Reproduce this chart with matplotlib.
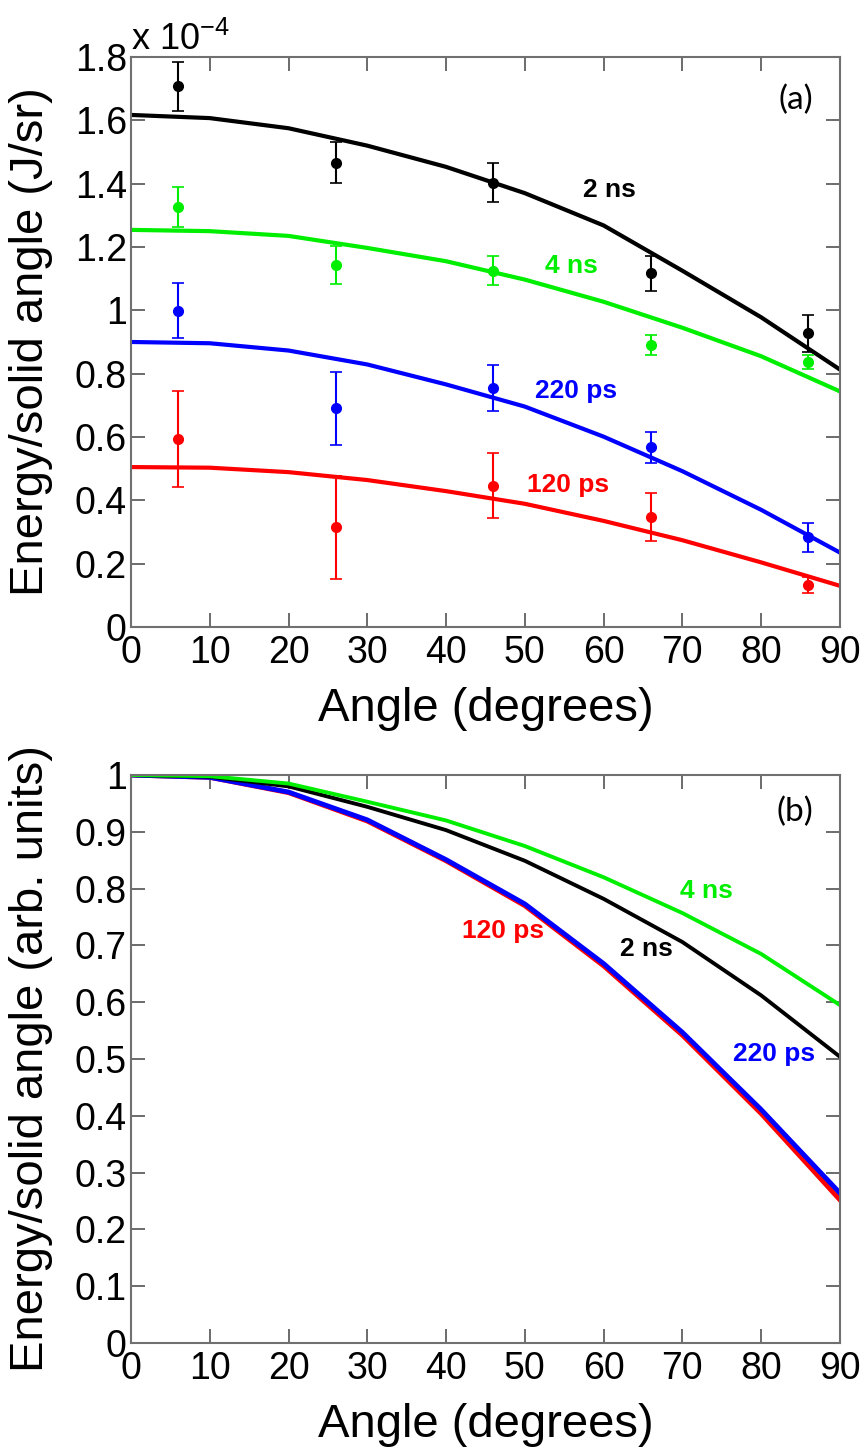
import matplotlib
matplotlib.use("Agg")
import matplotlib.pyplot as plt
from matplotlib.ticker import FuncFormatter

plt.rcParams['font.family'] = ['Liberation Sans', 'DejaVu Sans']
plt.rcParams['mathtext.fontset'] = 'custom'
plt.rcParams['mathtext.rm'] = 'Liberation Sans'

# measured points, panel (a)
angles_pts = [6, 26, 46, 66, 86]
e_2ns = [1.708, 1.466, 1.403, 1.117, 0.927]
err_2ns = [0.077, 0.065, 0.062, 0.055, 0.058]
e_4ns = [1.327, 1.143, 1.125, 0.890, 0.838]
err_4ns = [0.063, 0.061, 0.045, 0.031, 0.022]
e_220ps = [0.999, 0.690, 0.754, 0.567, 0.283]
err_220ps = [0.088, 0.115, 0.073, 0.050, 0.046]
e_120ps = [0.594, 0.315, 0.446, 0.348, 0.133]
err_120ps = [0.152, 0.162, 0.102, 0.075, 0.025]

# fitted curves, panel (a) (units of 1e-4 J/sr)
angles_fit = [0, 10, 20, 30, 40, 50, 60, 70, 80, 90]
fit_2ns = [1.617, 1.607, 1.575, 1.520, 1.453, 1.370, 1.268, 1.125, 0.978, 0.813]
fit_4ns = [1.254, 1.250, 1.235, 1.197, 1.155, 1.097, 1.027, 0.945, 0.855, 0.744]
fit_220ps = [0.900, 0.896, 0.873, 0.829, 0.766, 0.696, 0.601, 0.492, 0.370, 0.235]
fit_120ps = [0.505, 0.503, 0.489, 0.464, 0.429, 0.389, 0.335, 0.274, 0.204, 0.130]

# normalised curves, panel (b)
norm_2ns = [1.0, 0.997, 0.980, 0.944, 0.903, 0.849, 0.782, 0.706, 0.612, 0.504]
norm_4ns = [1.0, 0.998, 0.985, 0.953, 0.920, 0.875, 0.820, 0.757, 0.685, 0.595]
norm_220ps = [1.0, 0.996, 0.970, 0.921, 0.851, 0.773, 0.668, 0.547, 0.411, 0.264]
norm_120ps = [1.0, 0.996, 0.969, 0.919, 0.849, 0.770, 0.664, 0.542, 0.404, 0.252]

GREEN = '#00ee00'
BLUE = '#0000ff'
RED = '#ff0000'

fig = plt.figure(figsize=(8.65, 14.5), dpi=100)
ax1 = fig.add_axes([0.1514, 0.5676, 0.8196, 0.3931])
ax2 = fig.add_axes([0.1514, 0.0738, 0.8196, 0.3917])

fmt = FuncFormatter(lambda v, p: '%g' % round(v, 3))


def style(ax):
    for s in ax.spines.values():
        s.set_color('#707070')
        s.set_linewidth(1.5)
    ax.tick_params(which='both', direction='in', top=True, right=True,
                   length=10, width=1.3, color='#606060', labelsize=27)
    ax.tick_params(axis='y', pad=3)
    ax.tick_params(axis='x', pad=6)
    ax.set_xlim(0, 90)
    ax.set_xticks(range(0, 91, 10))
    ax.yaxis.set_major_formatter(fmt)
    ax.set_xlabel('Angle (degrees)', fontsize=34)
    ax.xaxis.set_label_coords(0.5, -0.105)


# panel (a)
ax1.plot(angles_fit, fit_120ps, color=RED, lw=3)
ax1.plot(angles_fit, fit_220ps, color=BLUE, lw=3)
ax1.plot(angles_fit, fit_4ns, color=GREEN, lw=3)
ax1.plot(angles_fit, fit_2ns, color='black', lw=3)
for y, e, c in [(e_2ns, err_2ns, 'black'), (e_4ns, err_4ns, GREEN),
                (e_220ps, err_220ps, BLUE), (e_120ps, err_120ps, RED)]:
    ax1.errorbar(angles_pts, y, yerr=e, fmt='o', color=c, ms=7,
                 elinewidth=1.5, capsize=4.5, capthick=1.2)
ax1.set_ylim(0, 1.8)
ax1.set_yticks([0, 0.2, 0.4, 0.6, 0.8, 1.0, 1.2, 1.4, 1.6, 1.8])
style(ax1)
ax1.set_ylabel('Energy/solid angle (J/sr)', fontsize=34)
ax1.yaxis.set_label_coords(-0.11, 0.5)
ax1.text(0.0, 1.012, r'x 10$^{-4}$', transform=ax1.transAxes, fontsize=26,
         ha='left', va='baseline')
ax1.text(0.938, 0.925, '(a)', transform=ax1.transAxes, fontsize=24,
         family='Lato', ha='center', va='center')
lab = dict(fontsize=19, fontweight='bold', ha='center', va='center')
ax1.text(60.8, 1.38, '2 ns', color='black', **lab)
ax1.text(55.9, 1.14, '4 ns', color=GREEN, **lab)
ax1.text(56.5, 0.745, '220 ps', color=BLUE, **lab)
ax1.text(55.5, 0.448, '120 ps', color=RED, **lab)

# panel (b)
ax2.plot(angles_fit, norm_120ps, color=RED, lw=3.5)
ax2.plot(angles_fit, norm_220ps, color=BLUE, lw=3.5)
ax2.plot(angles_fit, norm_2ns, color='black', lw=2.8)
ax2.plot(angles_fit, norm_4ns, color=GREEN, lw=2.8)
ax2.set_ylim(0, 1)
ax2.set_yticks([i / 10 for i in range(11)])
style(ax2)
ax2.set_ylabel('Energy/solid angle (arb. units)', fontsize=34)
ax2.yaxis.set_label_coords(-0.11, 0.5)
ax2.text(0.936, 0.935, '(b)', transform=ax2.transAxes, fontsize=24,
         family='Lato', ha='center', va='center')
ax2.text(73.1, 0.796, '4 ns', color=GREEN, **lab)
ax2.text(65.5, 0.694, '2 ns', color='black', **lab)
ax2.text(47.3, 0.725, '120 ps', color=RED, **lab)
ax2.text(81.6, 0.509, '220 ps', color=BLUE, **lab)

fig.savefig('out.png', dpi=100)
